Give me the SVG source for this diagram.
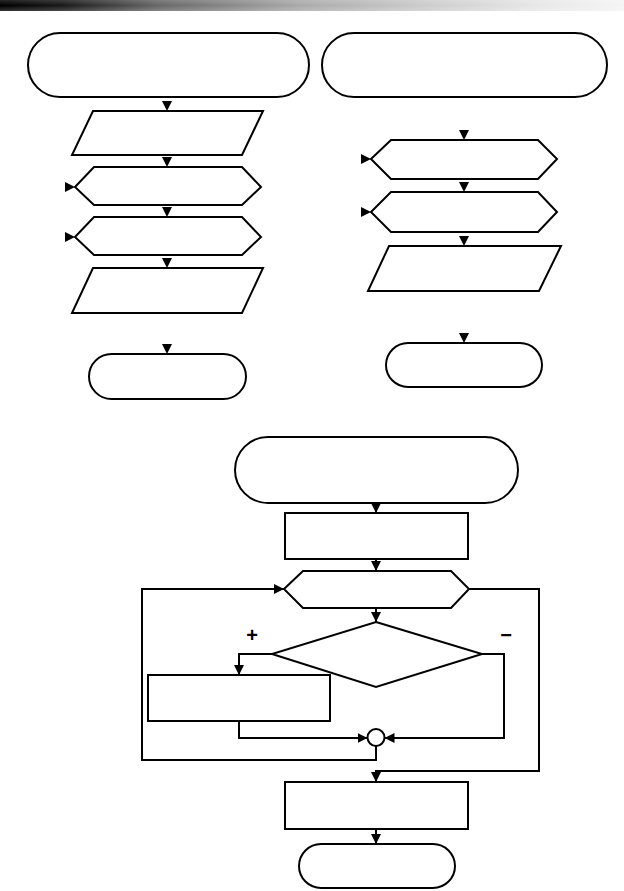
<svg xmlns="http://www.w3.org/2000/svg" width="624" height="891" viewBox="0 0 624 891">
<defs>
<linearGradient id="bar" x1="0" y1="0" x2="1" y2="0">
<stop offset="0" stop-color="#000"/>
<stop offset="0.1" stop-color="#1a1a1a"/>
<stop offset="0.25" stop-color="#666"/>
<stop offset="0.48" stop-color="#aaa"/>
<stop offset="0.7" stop-color="#cfcfcf"/>
<stop offset="0.85" stop-color="#e6e6e6"/>
<stop offset="1" stop-color="#f5f5f5"/>
</linearGradient>
<linearGradient id="barv" x1="0" y1="0" x2="0" y2="1">
<stop offset="0" stop-color="#fff" stop-opacity="0.15"/>
<stop offset="0.5" stop-color="#fff" stop-opacity="0"/>
<stop offset="1" stop-color="#fff" stop-opacity="0.2"/>
</linearGradient>
<marker id="ah" viewBox="0 0 10 10" refX="10" refY="5" markerWidth="10" markerHeight="10" markerUnits="userSpaceOnUse" orient="auto">
<path d="M0,0 L10,5 L0,10 z" fill="#000"/>
</marker>
</defs>
<style>
.s{fill:#fff;stroke:#000;stroke-width:2;stroke-linejoin:miter}
.c{fill:none;stroke:#000;stroke-width:2}
.a{fill:#000}
.t{font-family:"Liberation Sans",Arial,sans-serif;font-size:20px;font-weight:bold;fill:#000}
</style>
<rect x="0" y="0" width="624" height="11" fill="url(#bar)"/>
<rect x="0" y="0" width="624" height="11" fill="url(#barv)"/>

<!-- Left column -->
<g id="l-start"><rect class="s" x="28" y="33" width="281" height="64" rx="32" ry="32"/></g>
<g id="l-input"><polygon class="s" points="93,111 263,111 242,155 72,155"/></g>
<g id="l-loop1"><polygon class="s" points="75,187 94,167 242,167 261,187 242,205 94,205"/></g>
<g id="l-loop2"><polygon class="s" points="75,237 94,217 242,217 261,237 242,255 94,255"/></g>
<g id="l-output"><polygon class="s" points="93,268 263,268 242,313 72,313"/></g>
<g id="l-end"><rect class="s" x="89" y="354" width="157" height="45" rx="22.5" ry="22.5"/></g>

<!-- Right column -->
<g id="r-start"><rect class="s" x="322" y="33" width="285" height="64" rx="32" ry="32"/></g>
<g id="r-loop1"><polygon class="s" points="371,159 391,140 538,140 557,159 538,179 391,179"/></g>
<g id="r-loop2"><polygon class="s" points="371,212 391,192 538,192 557,212 538,232 391,232"/></g>
<g id="r-output"><polygon class="s" points="389,246 561,246 539,291 368,291"/></g>
<g id="r-end"><rect class="s" x="386" y="343" width="156" height="44" rx="22" ry="22"/></g>

<!-- Bottom flowchart -->
<g id="b-start"><rect class="s" x="235" y="437" width="283" height="66" rx="33" ry="33"/></g>
<g id="b-init"><rect class="s" x="285" y="513" width="183" height="46"/></g>
<g id="b-loop"><polygon class="s" points="284,589 303,571 451,571 469,589 451,608 303,608"/></g>
<g id="b-cond"><polygon class="s" points="376,622 482,654 376,687 272,654"/></g>
<g id="b-yes"><rect class="s" x="148" y="675" width="182" height="46"/></g>
<g id="b-join"><circle class="s" cx="376" cy="737.5" r="8.5"/></g>
<g id="b-after"><rect class="s" x="285" y="782" width="183" height="47"/></g>
<g id="b-end"><rect class="s" x="299" y="844" width="156" height="44" rx="22" ry="22"/></g>
<text class="t" x="252" y="642" text-anchor="middle">+</text>
<text class="t" x="506" y="642" text-anchor="middle">−</text>

<g id="connectors">
<!-- left column arrowheads -->
<polygon class="a" points="162,101 172,101 167,111"/>
<polygon class="a" points="162,157 172,157 167,167"/>
<polygon class="a" points="162,207 172,207 167,217"/>
<polygon class="a" points="162,258 172,258 167,268"/>
<polygon class="a" points="162,344 172,344 167,354"/>
<polygon class="a" points="65,182 75,187 65,192"/>
<polygon class="a" points="65,232 75,237 65,242"/>
<!-- right column arrowheads -->
<polygon class="a" points="459,130 469,130 464,140"/>
<polygon class="a" points="459,182 469,182 464,192"/>
<polygon class="a" points="459,236 469,236 464,246"/>
<polygon class="a" points="459,333 469,333 464,343"/>
<polygon class="a" points="361,154 371,159 361,164"/>
<polygon class="a" points="361,207 371,212 361,217"/>
<!-- bottom flow -->
<path class="c" d="M376,503 V513" marker-end="url(#ah)"/>
<path class="c" d="M376,559 V571" marker-end="url(#ah)"/>
<path class="c" d="M376,608 V622" marker-end="url(#ah)"/>
<path class="c" d="M272,654 H239 V675" marker-end="url(#ah)"/>
<path class="c" d="M239,721 V738 H367.5" marker-end="url(#ah)"/>
<path class="c" d="M482,654 H504 V738 H384.5" marker-end="url(#ah)"/>
<path class="c" d="M376,746 V760 H142 V589 H284" marker-end="url(#ah)"/>
<path class="c" d="M469,589 H539 V771 H376 V782" marker-end="url(#ah)"/>
<path class="c" d="M376,829 V844" marker-end="url(#ah)"/>
</g>
</svg>
